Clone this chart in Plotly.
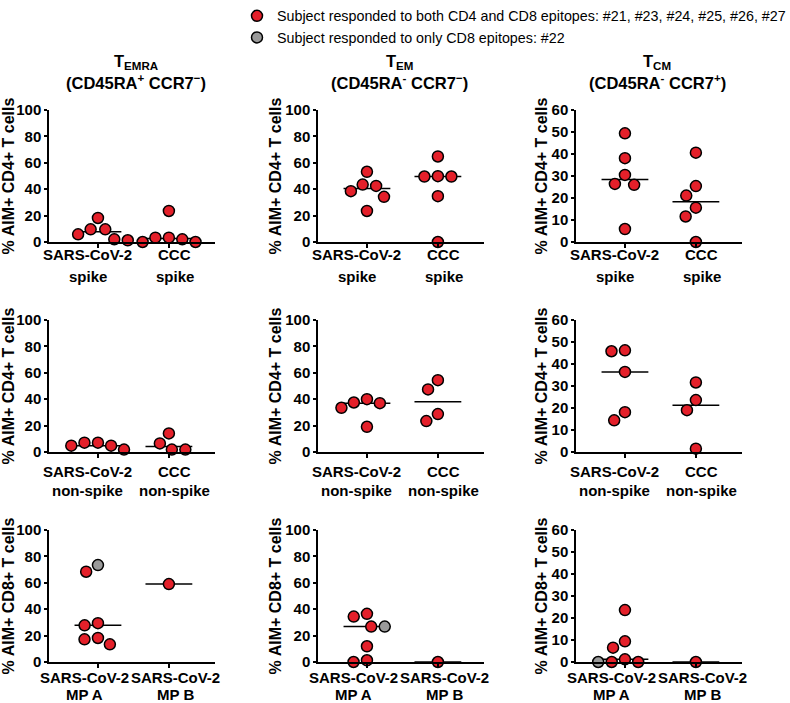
import numpy as np
import plotly.graph_objects as go
from plotly.subplots import make_subplots

# values (% AIM+ T cells)
# row 1: spike, CD4
temra_spike_sars = [9.6, 1.3, 18.2, 9.6, 2.0, 5.8]
temra_spike_ccc = [0.0, 3.3, 2.0, 3.3, 0.0, 23.5]
tem_spike_sars = [42.5, 53.2, 43.5, 34.2, 23.5, 38.5]
tem_spike_ccc = [49.6, 49.9, 49.6, 64.8, 34.7, 0.0]
tcm_spike_sars = [30.5, 49.4, 38.1, 26.0, 26.4, 5.9]
tcm_spike_ccc = [40.6, 25.4, 21.1, 15.6, 11.6, 0.0]

# row 2: non-spike, CD4
temra_ns_sars = [4.8, 7.1, 4.8, 7.1, 1.8]
temra_ns_ccc = [1.8, 14.1, 6.5, 1.8]
tem_ns_sars = [40.0, 37.0, 33.5, 37.5, 19.1]
tem_ns_ccc = [47.4, 54.4, 23.4, 28.7]
tcm_ns_sars = [46.2, 45.8, 36.4, 14.4, 18.1]
tcm_ns_ccc = [31.6, 23.6, 19.0, 1.5]

# row 3: CD8, megapools (subject #22 kept apart, responded to CD8 only)
temra_mpa_both = [68.4, 29.4, 27.8, 13.4, 18.2, 17.2]
temra_mpa_cd8only = [73.4]
temra_mpb_both = [59.0]
tem_mpa_both = [36.5, 34.4, 26.8, 11.9, 0.0, 1.3]
tem_mpa_cd8only = [26.8]
tem_mpb_both = [0.0]
tcm_mpa_both = [23.6, 9.4, 6.5, 1.2, 0.0, 0.0]
tcm_mpa_cd8only = [0.0]
tcm_mpb_both = [0.0]

row_cats = [
    [("SARS-CoV-2", "spike"), ("CCC", "spike")],
    [("SARS-CoV-2", "non-spike"), ("CCC", "non-spike")],
    [("SARS-CoV-2", "MP A"), ("SARS-CoV-2", "MP B")],
]
row_ytitles = ["% AIM+ CD4+ T cells", "% AIM+ CD4+ T cells", "% AIM+ CD8+ T cells"]
col_names = ["T<sub>EMRA</sub>", "T<sub>EM</sub>", "T<sub>CM</sub>"]
col_markers = [
    "(CD45RA<sup>+</sup> CCR7<sup>−</sup>)",
    "(CD45RA<sup>-</sup> CCR7<sup>−</sup>)",
    "(CD45RA<sup>-</sup> CCR7<sup>+</sup>)",
]
col_ymax = [100, 100, 60]
col_dtick = [20, 20, 10]

# panels[row][col] = list of groups (both, cd8 only)
panels = [
    [[(temra_spike_sars, []), (temra_spike_ccc, [])],
     [(tem_spike_sars, []), (tem_spike_ccc, [])],
     [(tcm_spike_sars, []), (tcm_spike_ccc, [])]],
    [[(temra_ns_sars, []), (temra_ns_ccc, [])],
     [(tem_ns_sars, []), (tem_ns_ccc, [])],
     [(tcm_ns_sars, []), (tcm_ns_ccc, [])]],
    [[(temra_mpa_both, temra_mpa_cd8only), (temra_mpb_both, [])],
     [(tem_mpa_both, tem_mpa_cd8only), (tem_mpb_both, [])],
     [(tcm_mpa_both, tcm_mpa_cd8only), (tcm_mpb_both, [])]],
]

RED = "#e4202a"
GRAY = "#9a9a9a"
FONT = "Arial, Liberation Sans, sans-serif"

# plot areas in pixels
W, H = 790, 703
col_px = [(49, 215), (318, 484), (576, 742)]
row_px = [(110, 242), (320, 452), (530, 662)]
XR = [-0.69, 1.65]
X_PX = (col_px[0][1] - col_px[0][0]) / (XR[1] - XR[0])
# category label line offsets below the axis (px) and sideways nudges
label_dy = [(-12, -34), (-19, -38), (-15, -32)]
label_dx = [(-10, 6), (-10, 6), (-13, 7)]


def swarm(vals, y_px, d=13.5):
    # simple beeswarm: each point goes as close to the centre as it can
    vals = np.asarray(vals, dtype=float)
    xs = np.zeros(len(vals))
    placed = []
    for i in np.argsort(-vals, kind="stable"):
        y = vals[i] * y_px
        blocked = []
        for px_, py_ in placed:
            dy = abs(py_ - y)
            if dy < d:
                h = np.sqrt(d * d - dy * dy)
                blocked.append((px_ - h, px_ + h))
        cands = sorted([0.0] + [b for iv in blocked for b in iv], key=lambda c: (abs(c), c))
        for c in cands:
            if all(not (lo + 1e-6 < c < hi - 1e-6) for lo, hi in blocked):
                break
        xs[i] = c / X_PX
        placed.append((c, y))
    return xs


fig = make_subplots(rows=3, cols=3)

for r in range(3):
    for c in range(3):
        k = r * 3 + c + 1
        xref = "x" if k == 1 else f"x{k}"
        yref = "y" if k == 1 else f"y{k}"
        y_px = (row_px[r][1] - row_px[r][0]) / col_ymax[c]
        for g, (both, only) in enumerate(panels[r][c]):
            vals = list(both) + list(only)
            colors = [RED] * len(both) + [GRAY] * len(only)
            offs = swarm(vals, y_px)
            med = float(np.median(vals))
            fig.add_trace(go.Scatter(
                x=[g - 0.33, g + 0.33], y=[med, med], mode="lines",
                line=dict(color="black", width=1.5), showlegend=False,
                hoverinfo="skip", cliponaxis=False), row=r + 1, col=c + 1)
            fig.add_trace(go.Scatter(
                x=g + offs, y=vals, mode="markers",
                marker=dict(size=11, color=colors, line=dict(color="black", width=1.5)),
                showlegend=False, cliponaxis=False), row=r + 1, col=c + 1)
            for ln in range(2):
                fig.add_annotation(
                    x=g, y=0, xref=xref, yref=yref,
                    text=f"<b>{row_cats[r][g][ln]}</b>", showarrow=False,
                    xanchor="center", yanchor="middle",
                    xshift=label_dx[r][g], yshift=label_dy[r][ln],
                    font=dict(family=FONT, size=15, color="black"))

        fig.update_xaxes(
            domain=[col_px[c][0] / W, col_px[c][1] / W], range=XR,
            showline=True, linewidth=1.5, linecolor="black",
            ticks="outside", ticklen=4, tickwidth=1.5, tickcolor="black",
            tickvals=[0, 1], showticklabels=False, showgrid=False, zeroline=False,
            automargin=False, row=r + 1, col=c + 1)
        fig.update_yaxes(
            domain=[1 - row_px[r][1] / H, 1 - row_px[r][0] / H],
            range=[0, col_ymax[c]], dtick=col_dtick[c],
            showline=True, linewidth=1.5, linecolor="black",
            ticks="outside", ticklen=3, tickwidth=1.5, tickcolor="black",
            showgrid=False, zeroline=False, automargin=False,
            tickfont=dict(family=FONT, size=15, color="black", weight="bold"),
            title=dict(text=f"<b>{row_ytitles[r]}</b>", standoff=0,
                       font=dict(family=FONT, size=16, color="black")),
            row=r + 1, col=c + 1)

title_x = [136, 399, 657]
for c in range(3):
    fig.add_annotation(
        x=title_x[c] / W, y=1 - 62 / H, xref="paper", yref="paper",
        text=f"<b>{col_names[c]}</b>", showarrow=False,
        xanchor="center", yanchor="middle",
        font=dict(family=FONT, size=16.5, color="black"))
    fig.add_annotation(
        x=title_x[c] / W, y=1 - 82 / H, xref="paper", yref="paper",
        text=f"<b>{col_markers[c]}</b>", showarrow=False,
        xanchor="center", yanchor="middle",
        font=dict(family=FONT, size=16.5, color="black"))

# legend entries
fig.add_trace(go.Scatter(
    x=[None], y=[None], mode="markers",
    marker=dict(size=11, color=RED, line=dict(color="black", width=1.5)),
    name="Subject responded to both CD4 and CD8 epitopes: #21, #23, #24, #25, #26, #27"))
fig.add_trace(go.Scatter(
    x=[None], y=[None], mode="markers",
    marker=dict(size=11, color=GRAY, line=dict(color="black", width=1.5)),
    name="Subject responded to only CD8 epitopes: #22"))

fig.update_layout(
    width=W, height=H,
    margin=dict(l=0, r=0, t=0, b=0, autoexpand=False),
    plot_bgcolor="white", paper_bgcolor="white",
    font=dict(family=FONT, color="black"),
    showlegend=True,
    legend=dict(x=237 / W, y=1.0, xanchor="left", yanchor="top",
                font=dict(family=FONT, size=14.3, color="black"),
                tracegroupgap=0, itemwidth=30, bgcolor="rgba(0,0,0,0)"),
)

# the page body has a default 8px margin; drop it so the figure sits at 0,0
fig.write_html("out.html", config={"displayModeBar": False},
               post_script="document.body.style.margin='0';")
